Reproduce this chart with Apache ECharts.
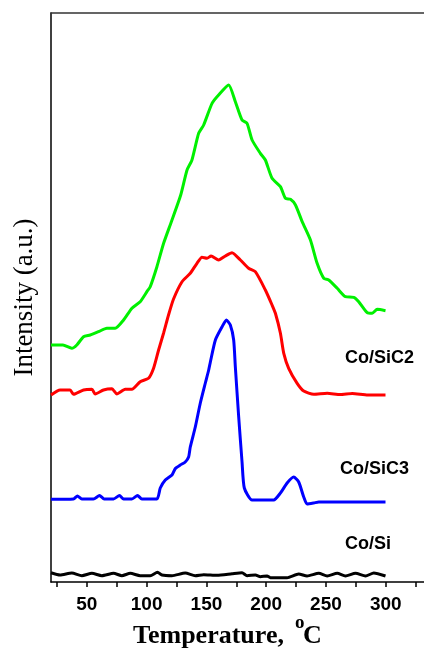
<!DOCTYPE html>
<html>
<head>
<meta charset="utf-8">
<script src="https://cdn.jsdelivr.net/npm/echarts@6/dist/echarts.min.js"></script>
<style>
  html, body { margin: 0; padding: 0; background: #fff; }
  #chart { width: 424px; height: 651px; }
</style>
</head>
<body>
<div id="chart"></div>
<script>
// Temperature-programmed profiles (intensity in arbitrary units, curves offset vertically)
const tempCoSi = [20,27.6,37.4,45.8,54.2,62.5,72.3,79.3,86.3,94.6,103,109.1,112.8,121.2,132.3,140.7,147.7,158.9,171.4,179.8,184,191,195.1,200.7,203.5,217.5,227.2,234.2,244,251,259.4,266.3,274.7,283.1,290,299.8];
const intCoSi = [9.3,7,9,6.3,8.7,6.3,8.7,6.3,8.7,6.3,6.3,9.7,7,6.3,9,6.3,7.3,6.7,8.3,9.3,6.3,7,5.3,6,4.3,4.3,8,6,8.7,6,8.7,6,8.7,6,9,6];

const tempCoSiC3 = [20,38.8,42.1,45.8,55.5,60.6,64.5,72.3,77.3,80.7,87.7,92.4,96,108.6,111.4,115.6,121.2,124,128.1,132.3,135.1,136.5,140.7,144.9,149.1,151.9,153.3,157.5,163,166.7,170,172.8,174.2,177,179.8,181.7,188.2,206.3,211.9,217.5,223,227.2,231.4,234.2,239.8,244,299.8];
const intCoSiC3 = [82.7,83,86,83,83,86.5,83,83,86.5,83,83,86.5,83,83,94,102,107,113.5,117,120,125,135,155,179,199,212,220,242,255,262,257,242,215,165,120,94,82,82,89,99,105,100,85,78,79,80,80];

const tempCoSiC2 = [20,27.6,36,38.8,47.2,54.2,57,63.9,70.9,75.1,82.1,87.7,94.6,101.6,105.8,110,114.2,118.3,122.5,129.6,136.5,142.1,146.3,150.5,153.9,160.2,165.8,171.4,178.4,185.3,190.9,199.3,204.9,207.7,211.9,214.7,218.8,225.9,231.4,239.8,251,262,272,285,299.8];
const intCoSiC2 = [187,192,192,187.7,192,192.7,188,192,193.3,188,192.7,192.7,200.3,203.7,213.7,232,249,267,283,300.3,308.7,318.7,324.7,323.7,326,322,326,329.3,322,313.7,310.3,292,277,268.7,248.7,228.7,213.7,198.7,191,187.7,188.7,187.5,188.5,187,187];

const tempCoSiC1 = [20,30,37.4,41.6,47.2,52.8,59.7,66.7,73.7,80.7,87.7,94.6,100.2,103,108.6,114.2,120.6,128.5,133.8,137.9,143.5,147.7,154.7,160.2,168.6,174.2,179.8,184,188.2,195.1,199.3,204.9,211.9,216.1,220.3,224.5,230.1,237,242.6,248.2,252.3,259.4,266.3,273.3,277.4,284.5,288.7,292.9,299.8];
const intCoSiC1 = [237,237,233.7,237,245.3,247,250.3,253.7,253.7,262,273.7,280.3,290.3,295.3,315.3,338.7,360,387,412,422,448.7,457,478.7,487,497,480.3,462,458.7,442,428.7,422,403.7,395.3,383.7,382.7,377,360.3,342,318.7,303.7,302,293.7,285.3,284.7,280.3,269.3,268.7,272.7,271.3];

const tickLabels = [50, 100, 150, 200, 250, 300];
const tickMarks = [25, 50, 75, 100, 125, 150, 175, 200, 225, 250, 275, 300, 325];
const curveNames = ['Co/SiC1', 'Co/SiC2', 'Co/SiC3', 'Co/Si'];
const curveLabels = ['Co/SiC2', 'Co/SiC3', 'Co/Si'];

function pairs(xs, ys) { return xs.map((x, i) => [x, ys[i]]); }

const chart = echarts.init(document.getElementById('chart'), null, { renderer: 'canvas' });

const lineSeries = (name, xs, ys, color) => ({
  name, type: 'line', xAxisIndex: 0, yAxisIndex: 0,
  data: pairs(xs, ys), showSymbol: false, smooth: 0.2,
  lineStyle: { color, width: 3 }, emphasis: { disabled: true }, z: 3
});

const sansBold = { fontFamily: 'Liberation Sans, Arial, sans-serif', fontWeight: 'bold', fontSize: 18, fill: '#000' };
const serifBold = { fontFamily: 'Liberation Serif, Times New Roman, serif', fontWeight: 'bold', fill: '#000' };

chart.setOption({
  animation: false,
  backgroundColor: '#fff',
  grid: { left: 51, right: 0, top: 13, bottom: 69, containLabel: false },
  xAxis: [{
    type: 'value', min: 20, max: 332, position: 'bottom',
    axisLine: { show: true, onZero: false, lineStyle: { color: '#000', width: 1.5 } },
    axisTick: { show: true, inside: false, length: 5, customValues: tickMarks, lineStyle: { color: '#000', width: 1.5 } },
    axisLabel: { show: true, customValues: tickLabels, margin: 13, color: '#000',
      fontFamily: 'Liberation Sans, Arial, sans-serif', fontWeight: 'bold', fontSize: 19 },
    splitLine: { show: false }
  }, {
    type: 'value', min: 20, max: 332, position: 'top',
    axisLine: { show: true, onZero: false, lineStyle: { color: '#333', width: 1.5 } },
    axisTick: { show: false }, axisLabel: { show: false }, splitLine: { show: false }
  }],
  yAxis: [{
    type: 'value', min: 0, max: 569,
    axisLine: { show: true, onZero: false, lineStyle: { color: '#000', width: 1.5 } },
    axisTick: { show: false }, axisLabel: { show: false }, splitLine: { show: false },
    name: 'Intensity (a.u.)', nameLocation: 'middle', nameGap: 13,
    nameTextStyle: { fontFamily: 'Liberation Serif, Times New Roman, serif', fontSize: 27, color: '#000' }
  }],
  series: [
    lineSeries(curveNames[0], tempCoSiC1, intCoSiC1, '#00f000'),
    lineSeries(curveNames[1], tempCoSiC2, intCoSiC2, '#ff0000'),
    lineSeries(curveNames[2], tempCoSiC3, intCoSiC3, '#0000ff'),
    lineSeries(curveNames[3], tempCoSi, intCoSi, '#000000')
  ],
  graphic: [
    { type: 'text', left: 345, top: 349, style: Object.assign({ text: curveLabels[0] }, sansBold) },
    { type: 'text', left: 340, top: 460, style: Object.assign({ text: curveLabels[1] }, sansBold) },
    { type: 'text', left: 345, top: 535, style: Object.assign({ text: curveLabels[2] }, sansBold) },
    // x-axis title: "Temperature, °C" with a raised "o"
    { type: 'text', left: 133, top: 623, style: Object.assign({ text: 'Temperature,', fontSize: 26 }, serifBold) },
    { type: 'text', left: 295, top: 614, style: Object.assign({ text: 'o', fontSize: 19 }, serifBold) },
    { type: 'text', left: 303, top: 623, style: Object.assign({ text: 'C', fontSize: 26 }, serifBold) }
  ]
});
</script>
</body>
</html>
